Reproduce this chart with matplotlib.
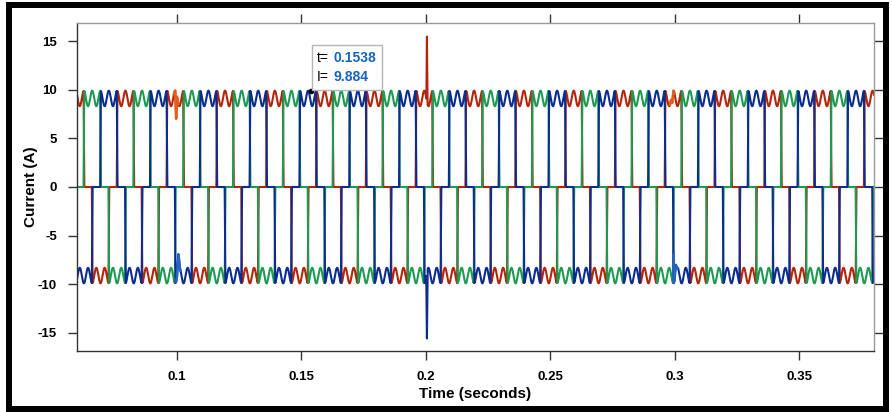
import numpy as np
import matplotlib
matplotlib.use('Agg')
import matplotlib.pyplot as plt
from matplotlib.patches import Rectangle
from matplotlib.transforms import ScaledTranslation

# ---------------- data ----------------
t_start, t_end = 0.06, 0.38          # visible time window (s)
period = 0.02                        # fundamental period (50 Hz)
red_first_rise = 0.0761              # first rising edge of the red phase (s)
peak_level = 9.9                     # flat-top current peak (A)
ripple_depth = 1.6                   # ripple depth on the flat tops (A)
edge_time = 0.0003                   # commutation edge duration (s)
sector_pattern = [1, 1, 0, -1, -1, 0]            # 60-degree sectors (red phase)
phase_names = ['red', 'green', 'blue']
phase_shift_sectors = [0, 2, 4]
phase_colors = ['#B3260C', '#1F9A52', '#0C2D8E']
# disturbances: phase, time (s), offset (A), half width (s)
event_phase = ['red', 'blue', 'red', 'blue', 'red', 'blue']
event_time = [0.0998, 0.1007, 0.2005, 0.2005, 0.2990, 0.3004]
event_delta = [-2.7, 1.6, 6.7, -6.8, -1.0, 0.9]
event_width = [0.00035, 0.0006, 0.00022, 0.00028, 0.0005, 0.0005]
highlight_phase = ['red', 'blue', 'red', 'blue']
highlight_time = [0.0998, 0.1007, 0.2990, 0.3004]
highlight_colors = {'red': '#E0601A', 'blue': '#2563C4'}
datatip_t, datatip_i = 0.1538, 9.884
x_ticks = [0.1, 0.15, 0.2, 0.25, 0.3, 0.35]
x_ticklabels = ['0.1', '0.15', '0.2', '0.25', '0.3', '0.35']
y_ticks = [-15, -10, -5, 0, 5, 10, 15]
y_ticklabels = ['-15', '-10', '-5', '0', '5', '10', '15']
x_label = 'Time (seconds)'
y_label = 'Current (A)'

# ---------------- waveform construction ----------------
dt = 1e-5
t = np.arange(t_start - 0.002, t_end + 0.002, dt)
sector_len = period / 6
sector_idx = np.floor((t - red_first_rise) / sector_len).astype(int)
ripple = peak_level - ripple_depth * (1 - np.cos(2 * np.pi * (t - red_first_rise) / sector_len)) / 2
k = max(1, int(round(edge_time / dt)))
kernel = np.ones(k) / k
pattern = np.array(sector_pattern, dtype=float)

waves = {}
for name, shift in zip(phase_names, phase_shift_sectors):
    lvl = pattern[(sector_idx - shift) % 6]
    lvl = np.convolve(lvl, kernel, mode='same')
    waves[name] = lvl * ripple

for ph, te, d, w in zip(event_phase, event_time, event_delta, event_width):
    tri = np.clip(1 - np.abs(t - te) / w, 0, None)
    waves[ph] = waves[ph] + d * tri

# ---------------- figure ----------------
plt.rcParams['font.family'] = ['Liberation Sans', 'DejaVu Sans']
plt.rcParams['axes.unicode_minus'] = False
fig = plt.figure(figsize=(8.92, 4.12), dpi=100)
fig.patch.set_facecolor('white')
ax = fig.add_axes([77 / 892, 1 - 351 / 412, (874 - 77) / 892, (351 - 23) / 412])

for name, col in zip(phase_names, phase_colors):
    ax.plot(t, waves[name], color=col, lw=1.5, solid_joinstyle='round')

for ph, te in zip(highlight_phase, highlight_time):
    m = (t > te - 0.0009) & (t < te + 0.0009)
    ax.plot(t[m], waves[ph][m], color=highlight_colors[ph], lw=1.8)

ax.set_xlim(t_start, t_end)
ax.set_ylim(-16.85, 16.85)
ax.set_xticks(x_ticks)
ax.set_xticklabels(x_ticklabels)
ax.set_yticks(y_ticks)
ax.set_yticklabels(y_ticklabels)
ax.tick_params(axis='both', direction='out', length=6.5, width=1.0, colors='#333333',
               labelsize=9.5, top=True, right=True, pad=8)
for lab in ax.get_xticklabels() + ax.get_yticklabels():
    lab.set_fontweight('bold')
    lab.set_color('black')
ax.set_xlabel(x_label, fontsize=11, fontweight='bold', labelpad=3)
ax.set_ylabel(y_label, fontsize=11, fontweight='bold', labelpad=0)
for side in ['left', 'bottom']:
    ax.spines[side].set_color('#333333')
for side in ['top', 'right']:
    ax.spines[side].set_color('#9a9a9a')
for s in ax.spines.values():
    s.set_linewidth(1.0)

# data tip
ax.plot([datatip_t], [datatip_i], 'o', color='black', ms=3, zorder=6)
tip_tr = fig.dpi_scale_trans + ScaledTranslation(datatip_t, datatip_i, ax.transData)
ax.add_patch(Rectangle((0.01, 0.007), 0.70, 0.45, transform=tip_tr, facecolor='white',
                       edgecolor='#b5b5b5', lw=1.0, zorder=7, clip_on=False))
ax.text(0.06, 0.33, 't=', transform=tip_tr, fontsize=10, va='center', ha='left', zorder=8)
ax.text(0.225, 0.33, f'{datatip_t:.4f}', transform=tip_tr, fontsize=10, fontweight='bold',
        color='#1563C3', va='center', ha='left', zorder=8)
ax.text(0.06, 0.14, 'I=', transform=tip_tr, fontsize=10, va='center', ha='left', zorder=8)
ax.text(0.225, 0.14, f'{datatip_i:.3f}', transform=tip_tr, fontsize=10, fontweight='bold',
        color='#1563C3', va='center', ha='left', zorder=8)

# outer black frame
fig.patches.append(Rectangle((9 / 892, 3.5 / 412), (886 - 9) / 892, (407.5 - 3.5) / 412,
                             transform=fig.transFigure, fill=False, edgecolor='black',
                             lw=4.3, zorder=10))

fig.savefig('out.png', dpi=100, facecolor='white')
